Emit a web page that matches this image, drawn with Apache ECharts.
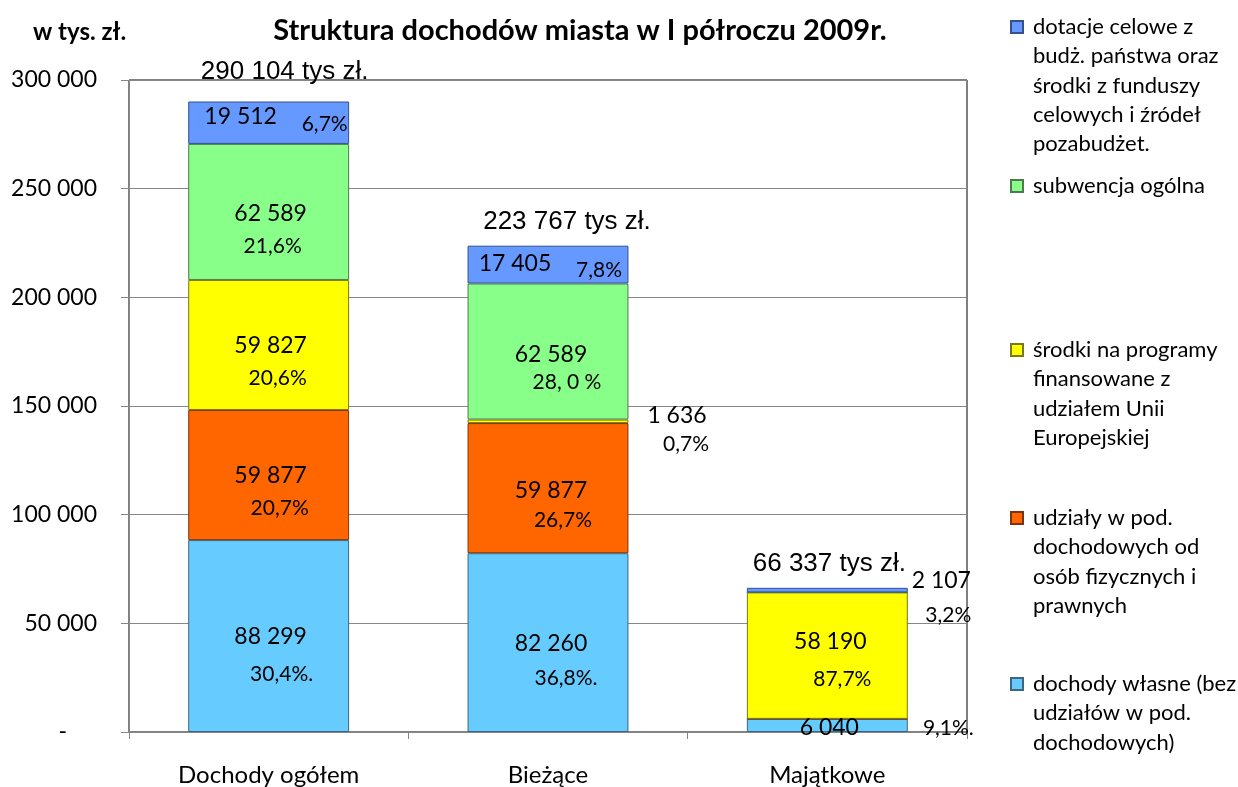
<!DOCTYPE html>
<html>
<head>
<meta charset="utf-8">
<script src="https://cdn.jsdelivr.net/npm/echarts@6/dist/echarts.min.js"></script>
<style>html,body{margin:0;padding:0;background:#fff}#c{width:1238px;height:787px}</style>
</head>
<body>
<div id="c"></div>
<script>
// ---- data ----
const categories = ['Dochody ogółem', 'Bieżące', 'Majątkowe'];
const seriesNames = [
  'dochody własne (bez udziałów w pod. dochodowych)',
  'udziały w pod. dochodowych od osób fizycznych i prawnych',
  'środki na programy finansowane z udziałem Unii Europejskiej',
  'subwencja ogólna',
  'dotacje celowe z budż. państwa oraz środki z funduszy celowych i źródeł pozabudżet.'
];
const dochodyWlasne = [88299, 82260, 6040];
const udzialy = [59877, 59877, 0];
const srodkiUE = [59827, 1636, 58190];
const subwencja = [62589, 62589, 0];
const dotacje = [19512, 17405, 2107];
const pctDochodyWlasne = ['30,4%.', '36,8%.', '9,1%.'];
const pctUdzialy = ['20,7%', '26,7%', null];
const pctSrodkiUE = ['20,6%', '0,7%', '87,7%'];
const pctSubwencja = ['21,6%', '28, 0 %', null];
const pctDotacje = ['6,7%', '7,8%', '3,2%'];
const yTicks = [0, 50000, 100000, 150000, 200000, 250000, 300000];
const legendLines = [
  'dochody własne (bez\nudziałów w pod.\ndochodowych)',
  'udziały w pod.\ndochodowych od\nosób fizycznych i\nprawnych',
  'środki na programy\nfinansowane z\nudziałem Unii\nEuropejskiej',
  'subwencja ogólna',
  'dotacje celowe z\nbudż. państwa oraz\nśrodki z funduszy\ncelowych i źródeł\npozabudżet.'
];

// ---- styles ----
const values = [dochodyWlasne, udzialy, srodkiUE, subwencja, dotacje];
const pcts = [pctDochodyWlasne, pctUdzialy, pctSrodkiUE, pctSubwencja, pctDotacje];
const colors = ['#66CCFF', '#FF6600', '#FFFF00', '#88FF88', '#6699FF'];
const borders = ['#3f6580', '#7a3510', '#77771c', '#4f7a4f', '#35508a'];
// label offsets relative to [category centre, segment middle]
const valOff = [
  [[2, 1], [3, 1], [2, 2]],
  [[2, 1], [3, 2], null],
  [[2, 1], [129, -6], [3, -14]],
  [[2, 2], [3, 3], null],
  [[-28, -6], [-33, -1], [114, -10]]
];
const pctOff = [
  [[13, 38], [18, 36], [121, 3]],
  [[11, 33], [15, 32], null],
  [[9, 33], [138, 23], [15, 24]],
  [[4, 34], [19, 31], null],
  [[56, 2], [51, 6], [121, 25]]
];
const totalOff = [[16, -30], [19, -24], [2, -24]];
const legendCentres = [684, 518, 350, 186, 27];
const LH = 29.3;

function fmt(v) { return String(v).replace(/\B(?=(\d{3})+(?!\d))/g, ' '); }

const totals = categories.map((c, i) => values.reduce((a, s) => a + s[i], 0));

const chart = echarts.init(document.getElementById('c'), null, {renderer: 'canvas'});

const series = seriesNames.map((n, k) => ({
  name: n,
  type: 'bar',
  stack: 'all',
  barWidth: '57.6%',
  data: values[k],
  itemStyle: {color: colors[k], borderColor: borders[k], borderWidth: 1},
  emphasis: {disabled: true}
}));

series.push({
  type: 'custom',
  name: 'labels',
  z: 10,
  clip: false,
  silent: true,
  data: categories.map((c, i) => [i, totals[i]]),
  encode: {x: 0, y: 1},
  renderItem: function (params, api) {
    const i = params.dataIndex;
    const cx = api.coord([i, 0])[0];
    const children = [];
    let base = 0;
    values.forEach((s, k) => {
      const v = s[i];
      const y = api.coord([i, base + v / 2])[1];
      base += v;
      const vo = valOff[k][i];
      const po = pctOff[k][i];
      if (vo) children.push({type: 'text', x: cx + vo[0], y: y + vo[1],
        style: {text: fmt(v), fontFamily: 'Lato', fontSize: 23, fill: '#000', align: 'center', verticalAlign: 'middle'}});
      if (po && pcts[k][i]) children.push({type: 'text', x: cx + po[0], y: y + po[1],
        style: {text: pcts[k][i], fontFamily: 'Lato', fontSize: 21, fill: '#000', align: 'center', verticalAlign: 'middle'}});
    });
    const ty = api.coord([i, totals[i]])[1];
    children.push({type: 'text', x: cx + totalOff[i][0], y: ty + totalOff[i][1],
      style: {text: fmt(totals[i]) + ' tys zł.', fontFamily: 'Liberation Sans', fontSize: 26, fill: '#000', align: 'center', verticalAlign: 'middle'}});
    return {type: 'group', children: children};
  }
});

// one legend per item so each can sit where the reference puts it;
// leading empty lines keep the square level with the first text line
const legends = seriesNames.map((n, k) => {
  const N = legendLines[k].split('\n').length;
  const H = (2 * N - 1) * LH;
  const txt = '\n'.repeat(N - 1) + legendLines[k];
  return {
    orient: 'vertical', left: 1010, top: legendCentres[k] - H / 2, padding: 0,
    itemWidth: 12, itemHeight: 12, selectedMode: false, icon: 'rect',
    data: [n],
    formatter: () => txt,
    textStyle: {fontFamily: 'Lato', fontSize: 22, lineHeight: LH, color: '#000', padding: [0, 0, 0, 5]}
  };
});

chart.setOption({
  animation: false,
  backgroundColor: '#fff',
  title: [
    {text: 'Struktura dochodów miasta w I półroczu 2009r.', left: 580, textAlign: 'center', top: 16, padding: 0,
     textStyle: {fontFamily: 'Lato', fontWeight: 'bold', fontSize: 29, color: '#000'}},
    {text: 'w tys. zł.', left: 33, top: 20, padding: 0,
     textStyle: {fontFamily: 'Lato', fontWeight: 'bold', fontSize: 24, color: '#000'}}
  ],
  legend: legends,
  grid: {left: 129, right: 271, top: 80, bottom: 53, show: true, borderColor: '#000', borderWidth: 1, containLabel: false},
  xAxis: {
    type: 'category', data: categories,
    axisLine: {lineStyle: {color: '#868686'}},
    axisTick: {show: true, length: 7, lineStyle: {color: '#868686'}},
    axisLabel: {fontFamily: 'Lato', fontSize: 24, color: '#000', margin: 31}
  },
  yAxis: {
    type: 'value', min: 0, max: 300000, interval: 50000,
    axisLine: {show: true, lineStyle: {color: '#868686'}},
    axisTick: {show: true, length: 8, lineStyle: {color: '#868686'}},
    splitLine: {lineStyle: {color: '#868686'}},
    axisLabel: {
      fontFamily: 'Lato', fontSize: 23, color: '#000', margin: 32,
      formatter: v => v === 0 ? '{d|-}' : fmt(v),
      rich: {d: {fontFamily: 'Lato', fontSize: 23, color: '#000', padding: [0, 30, 0, 0]}}
    }
  },
  series: series
});
</script>
</body>
</html>
